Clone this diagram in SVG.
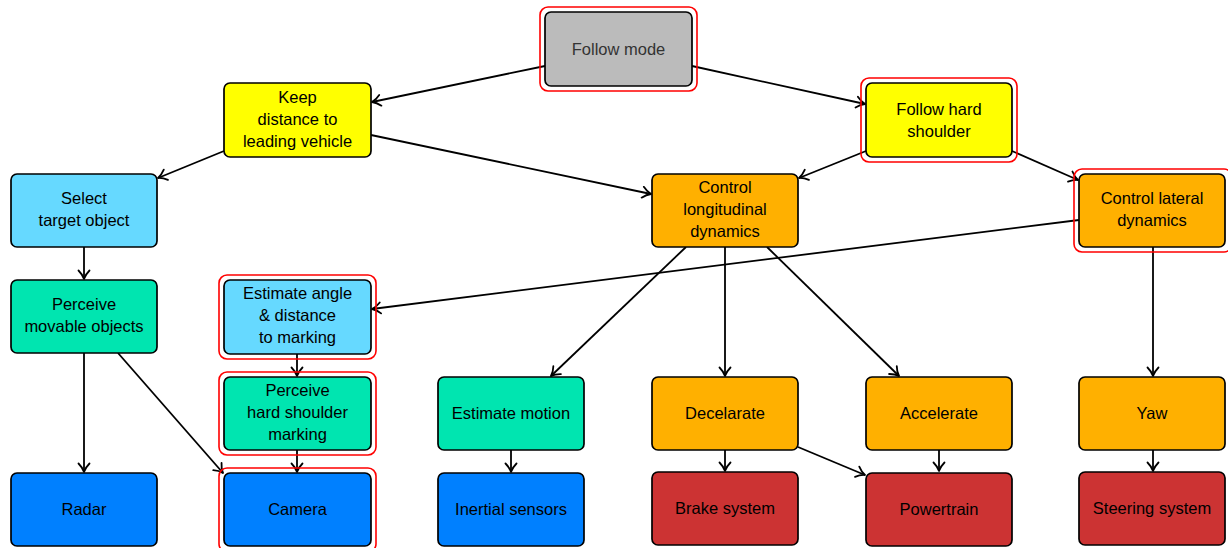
<svg xmlns="http://www.w3.org/2000/svg" width="1228" height="548" viewBox="0 0 1228 548">
<style>
.n{stroke:#000;stroke-width:1.7}
.hl{fill:none;stroke:#ff0000;stroke-width:1.6}
.t{font-family:"Liberation Sans",Arial,sans-serif;font-size:16.5px;fill:#000;text-anchor:middle}
.e{fill:none;stroke:#000;stroke-width:1.8;marker-end:url(#a)}
.gray{fill:#bbbbbb}.yel{fill:#ffff00}.cyan{fill:#66d9ff}.teal{fill:#00e5b0}.org{fill:#ffb000}.blue{fill:#0080ff}.red{fill:#cc3333}
</style>
<defs>
<marker id="a" markerWidth="14" markerHeight="14" refX="11" refY="7" orient="auto" markerUnits="userSpaceOnUse">
<path d="M2.5,1.5 Q6.5,5.5 11,7 Q6.5,8.5 2.5,12.5" fill="none" stroke="#000" stroke-width="1.8" stroke-linecap="round" stroke-linejoin="round"/>
</marker>
</defs>
<rect width="1228" height="548" fill="#fff"/>
<g id="connectors">
<line class="e" x1="545" y1="66" x2="372" y2="102"/>
<line class="e" x1="692" y1="66" x2="865" y2="104"/>
<line class="e" x1="224" y1="151" x2="158" y2="178"/>
<line class="e" x1="371" y1="135" x2="651" y2="194"/>
<line class="e" x1="866" y1="151" x2="799" y2="178"/>
<line class="e" x1="1012" y1="151" x2="1078" y2="180"/>
<line class="e" x1="1079" y1="220" x2="372" y2="309"/>
<line class="e" x1="84" y1="247" x2="84" y2="279"/>
<line class="e" x1="84" y1="353" x2="84" y2="472"/>
<line class="e" x1="118" y1="353" x2="223" y2="473"/>
<line class="e" x1="297" y1="354" x2="297" y2="376"/>
<line class="e" x1="297" y1="450" x2="297" y2="472"/>
<line class="e" x1="686" y1="247" x2="551" y2="376"/>
<line class="e" x1="725" y1="247" x2="725" y2="376"/>
<line class="e" x1="767" y1="247" x2="899" y2="376"/>
<line class="e" x1="1153" y1="247" x2="1153" y2="376"/>
<line class="e" x1="511" y1="450" x2="511" y2="472"/>
<line class="e" x1="725" y1="450" x2="725" y2="471"/>
<line class="e" x1="798" y1="447" x2="865" y2="475"/>
<line class="e" x1="939" y1="450" x2="939" y2="471"/>
<line class="e" x1="1153" y1="450" x2="1153" y2="471"/>
</g>
<g id="follow-mode">
<rect class="hl" x="540" y="7" width="157" height="84" rx="8"/>
<rect class="n gray" x="545" y="12" width="147" height="74" rx="6"/>
<text class="t" x="618.5" y="55" style="fill:#333">Follow mode</text>
</g>
<g id="keep-distance">
<rect class="n yel" x="224" y="83" width="147" height="74" rx="6"/>
<text class="t" x="297.5" y="103">Keep</text>
<text class="t" x="297.5" y="125">distance to</text>
<text class="t" x="297.5" y="147">leading vehicle</text>
</g>
<g id="follow-hard-shoulder">
<rect class="hl" x="861" y="78" width="156" height="84" rx="8"/>
<rect class="n yel" x="866" y="83" width="146" height="74" rx="6"/>
<text class="t" x="939" y="115">Follow hard</text>
<text class="t" x="939" y="137">shoulder</text>
</g>
<g id="select-target">
<rect class="n cyan" x="11" y="174" width="146" height="73" rx="6"/>
<text class="t" x="84" y="204">Select</text>
<text class="t" x="84" y="226">target object</text>
</g>
<g id="control-longitudinal">
<rect class="n org" x="652" y="174" width="146" height="73" rx="6"/>
<text class="t" x="725" y="193">Control</text>
<text class="t" x="725" y="215">longitudinal</text>
<text class="t" x="725" y="237">dynamics</text>
</g>
<g id="control-lateral">
<rect class="hl" x="1074" y="169" width="158" height="83" rx="8"/>
<rect class="n org" x="1079" y="174" width="146" height="73" rx="6"/>
<text class="t" x="1152" y="204">Control lateral</text>
<text class="t" x="1152" y="226">dynamics</text>
</g>
<g id="perceive-movable">
<rect class="n teal" x="11" y="280" width="146" height="73" rx="6"/>
<text class="t" x="84" y="310">Perceive</text>
<text class="t" x="84" y="332">movable objects</text>
</g>
<g id="estimate-angle">
<rect class="hl" x="219" y="275" width="157" height="84" rx="8"/>
<rect class="n cyan" x="224" y="280" width="147" height="74" rx="6"/>
<text class="t" x="297.5" y="299">Estimate angle</text>
<text class="t" x="297.5" y="321">&amp; distance</text>
<text class="t" x="297.5" y="343">to marking</text>
</g>
<g id="perceive-hard-shoulder">
<rect class="hl" x="219" y="372" width="157" height="83" rx="8"/>
<rect class="n teal" x="224" y="377" width="147" height="73" rx="6"/>
<text class="t" x="297.5" y="396">Perceive</text>
<text class="t" x="297.5" y="418">hard shoulder</text>
<text class="t" x="297.5" y="440">marking</text>
</g>
<g id="estimate-motion">
<rect class="n teal" x="438" y="377" width="146" height="73" rx="6"/>
<text class="t" x="511" y="419">Estimate motion</text>
</g>
<g id="decelarate">
<rect class="n org" x="652" y="377" width="146" height="73" rx="6"/>
<text class="t" x="725" y="419">Decelarate</text>
</g>
<g id="accelerate">
<rect class="n org" x="866" y="377" width="146" height="73" rx="6"/>
<text class="t" x="939" y="419">Accelerate</text>
</g>
<g id="yaw">
<rect class="n org" x="1079" y="377" width="146" height="73" rx="6"/>
<text class="t" x="1152" y="419">Yaw</text>
</g>
<g id="radar">
<rect class="n blue" x="11" y="473" width="146" height="73" rx="6"/>
<text class="t" x="84" y="515">Radar</text>
</g>
<g id="camera">
<rect class="hl" x="219" y="468" width="157" height="84" rx="8"/>
<rect class="n blue" x="224" y="473" width="147" height="73" rx="6"/>
<text class="t" x="297.5" y="515">Camera</text>
</g>
<g id="inertial-sensors">
<rect class="n blue" x="438" y="473" width="146" height="73" rx="6"/>
<text class="t" x="511" y="515">Inertial sensors</text>
</g>
<g id="brake-system">
<rect class="n red" x="652" y="472" width="146" height="73" rx="6"/>
<text class="t" x="725" y="514">Brake system</text>
</g>
<g id="powertrain">
<rect class="n red" x="866" y="473" width="146" height="73" rx="6"/>
<text class="t" x="939" y="515">Powertrain</text>
</g>
<g id="steering-system">
<rect class="n red" x="1079" y="472" width="146" height="73" rx="6"/>
<text class="t" x="1152" y="514">Steering system</text>
</g>
</svg>
